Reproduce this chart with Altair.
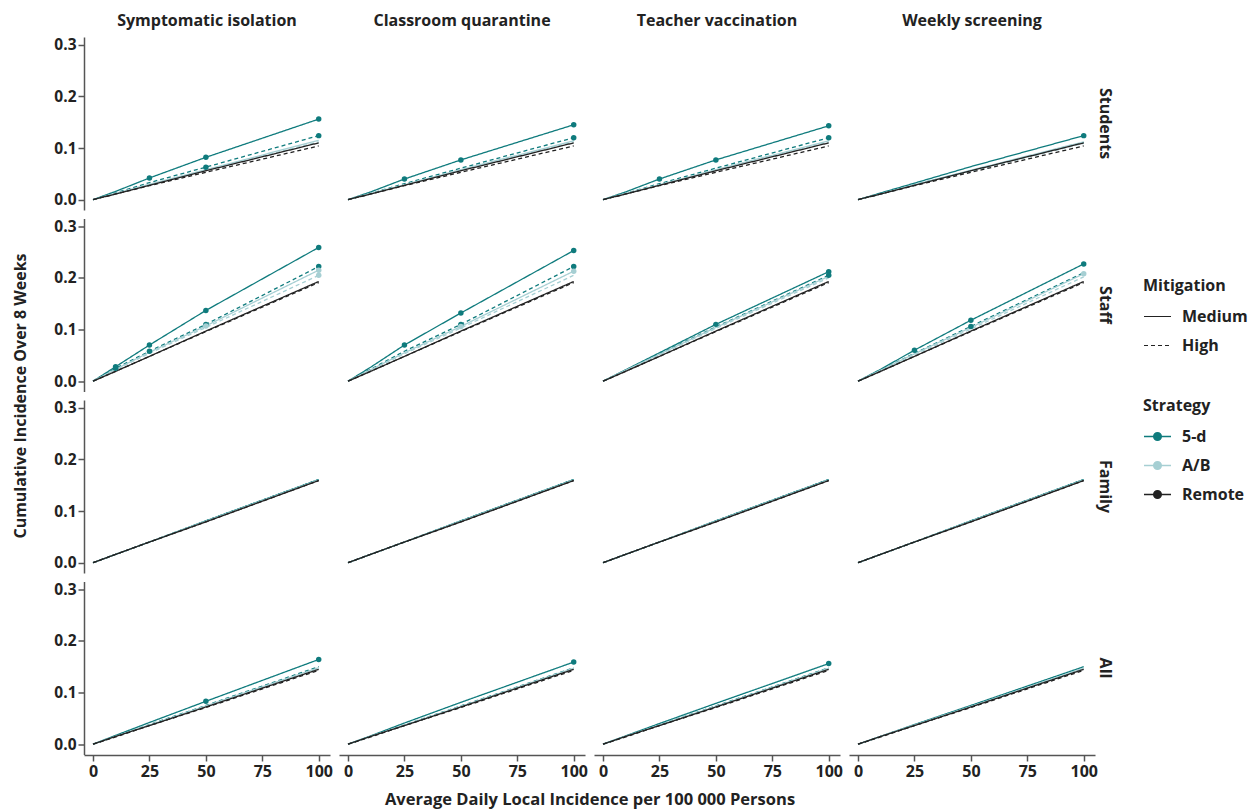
import altair as alt
import pandas as pd

# ---------------- data ----------------
outcomes = ["Students", "Staff", "Family", "All"]
interventions = ["Symptomatic isolation", "Classroom quarantine", "Teacher vaccination", "Weekly screening"]
strategies = ["5-d", "A/B", "Remote"]
mitigations = ["Medium", "High"]
x_vals = [0, 10, 25, 50, 100]

# series order per panel: 5-d Medium, 5-d High, A/B Medium, A/B High, Remote Medium, Remote High
stu_remote_m = [0, 0.011, 0.028, 0.056, 0.110]
stu_remote_h = [0, 0.011, 0.027, 0.053, 0.104]
stf_remote_m = [0, 0.019, 0.048, 0.097, 0.193]
stf_remote_h = [0, 0.019, 0.048, 0.096, 0.191]
fam_5d = [0, 0.016, 0.040, 0.081, 0.161]
fam_ab = [0, 0.016, 0.040, 0.080, 0.160]
fam_remote = [0, 0.016, 0.040, 0.079, 0.159]
all_remote_m = [0, 0.015, 0.036, 0.072, 0.145]
all_remote_h = [0, 0.014, 0.036, 0.071, 0.143]

values = {
    ("Students", "Symptomatic isolation"): [
        [0, 0.016, 0.042, 0.082, 0.156], [0, 0.013, 0.033, 0.063, 0.124],
        [0, 0.012, 0.030, 0.058, 0.115], [0, 0.012, 0.029, 0.057, 0.112],
        stu_remote_m, stu_remote_h],
    ("Students", "Classroom quarantine"): [
        [0, 0.015, 0.040, 0.077, 0.145], [0, 0.012, 0.031, 0.061, 0.120],
        [0, 0.012, 0.029, 0.058, 0.114], [0, 0.011, 0.029, 0.057, 0.112],
        stu_remote_m, stu_remote_h],
    ("Students", "Teacher vaccination"): [
        [0, 0.015, 0.040, 0.077, 0.143], [0, 0.012, 0.031, 0.061, 0.120],
        [0, 0.012, 0.029, 0.058, 0.114], [0, 0.011, 0.029, 0.057, 0.112],
        stu_remote_m, stu_remote_h],
    ("Students", "Weekly screening"): [
        [0, 0.013, 0.032, 0.064, 0.124], [0, 0.011, 0.029, 0.056, 0.111],
        [0, 0.011, 0.029, 0.057, 0.112], [0, 0.011, 0.028, 0.055, 0.109],
        stu_remote_m, stu_remote_h],
    ("Staff", "Symptomatic isolation"): [
        [0, 0.028, 0.070, 0.137, 0.259], [0, 0.025, 0.058, 0.110, 0.222],
        [0, 0.023, 0.056, 0.107, 0.215], [0, 0.022, 0.054, 0.104, 0.205],
        stf_remote_m, stf_remote_h],
    ("Staff", "Classroom quarantine"): [
        [0, 0.027, 0.070, 0.132, 0.253], [0, 0.023, 0.058, 0.110, 0.222],
        [0, 0.022, 0.055, 0.106, 0.213], [0, 0.021, 0.053, 0.103, 0.205],
        stf_remote_m, stf_remote_h],
    ("Staff", "Teacher vaccination"): [
        [0, 0.022, 0.055, 0.110, 0.212], [0, 0.021, 0.053, 0.105, 0.205],
        [0, 0.021, 0.052, 0.104, 0.203], [0, 0.020, 0.051, 0.102, 0.200],
        stf_remote_m, stf_remote_h],
    ("Staff", "Weekly screening"): [
        [0, 0.023, 0.060, 0.118, 0.227], [0, 0.021, 0.054, 0.106, 0.210],
        [0, 0.021, 0.053, 0.104, 0.208], [0, 0.020, 0.051, 0.101, 0.202],
        stf_remote_m, stf_remote_h],
    ("Family", "Symptomatic isolation"): [fam_5d, fam_5d, fam_ab, fam_ab, fam_remote, fam_remote],
    ("Family", "Classroom quarantine"): [fam_5d, fam_5d, fam_ab, fam_ab, fam_remote, fam_remote],
    ("Family", "Teacher vaccination"): [fam_5d, fam_5d, fam_ab, fam_ab, fam_remote, fam_remote],
    ("Family", "Weekly screening"): [fam_5d, fam_5d, fam_ab, fam_ab, fam_remote, fam_remote],
    ("All", "Symptomatic isolation"): [
        [0, 0.017, 0.042, 0.083, 0.164], [0, 0.015, 0.038, 0.075, 0.150],
        [0, 0.015, 0.037, 0.074, 0.148], [0, 0.015, 0.037, 0.073, 0.147],
        all_remote_m, all_remote_h],
    ("All", "Classroom quarantine"): [
        [0, 0.016, 0.041, 0.081, 0.159], [0, 0.015, 0.037, 0.074, 0.148],
        [0, 0.015, 0.037, 0.073, 0.147], [0, 0.015, 0.036, 0.073, 0.146],
        all_remote_m, all_remote_h],
    ("All", "Teacher vaccination"): [
        [0, 0.016, 0.040, 0.079, 0.156], [0, 0.015, 0.037, 0.074, 0.148],
        [0, 0.015, 0.037, 0.073, 0.147], [0, 0.015, 0.036, 0.073, 0.146],
        all_remote_m, all_remote_h],
    ("All", "Weekly screening"): [
        [0, 0.015, 0.038, 0.075, 0.150], [0, 0.015, 0.037, 0.073, 0.146],
        [0, 0.015, 0.037, 0.073, 0.147], [0, 0.015, 0.036, 0.072, 0.145],
        all_remote_m, all_remote_h],
}

# points marked with a dot: (outcome, intervention, strategy, mitigation) -> x values
dots = {
    ("Students", "Symptomatic isolation", "5-d", "Medium"): [25, 50, 100],
    ("Students", "Symptomatic isolation", "5-d", "High"): [50, 100],
    ("Students", "Classroom quarantine", "5-d", "Medium"): [25, 50, 100],
    ("Students", "Classroom quarantine", "5-d", "High"): [100],
    ("Students", "Teacher vaccination", "5-d", "Medium"): [25, 50, 100],
    ("Students", "Teacher vaccination", "5-d", "High"): [100],
    ("Students", "Weekly screening", "5-d", "Medium"): [100],
    ("Staff", "Symptomatic isolation", "5-d", "Medium"): [10, 25, 50, 100],
    ("Staff", "Symptomatic isolation", "5-d", "High"): [10, 25, 50, 100],
    ("Staff", "Symptomatic isolation", "A/B", "Medium"): [50, 100],
    ("Staff", "Symptomatic isolation", "A/B", "High"): [100],
    ("Staff", "Classroom quarantine", "5-d", "Medium"): [25, 50, 100],
    ("Staff", "Classroom quarantine", "5-d", "High"): [50, 100],
    ("Staff", "Classroom quarantine", "A/B", "Medium"): [50, 100],
    ("Staff", "Teacher vaccination", "5-d", "Medium"): [50, 100],
    ("Staff", "Teacher vaccination", "5-d", "High"): [100],
    ("Staff", "Weekly screening", "5-d", "Medium"): [25, 50, 100],
    ("Staff", "Weekly screening", "5-d", "High"): [50],
    ("Staff", "Weekly screening", "A/B", "Medium"): [100],
    ("All", "Symptomatic isolation", "5-d", "Medium"): [50, 100],
    ("All", "Classroom quarantine", "5-d", "Medium"): [100],
    ("All", "Teacher vaccination", "5-d", "Medium"): [100],
}

series_keys = [(s, m) for s in strategies for m in mitigations]
rows = []
for (outc, interv), series in values.items():
    for (s, m), ys in zip(series_keys, series):
        marked = dots.get((outc, interv, s, m), [])
        for xv, yv in zip(x_vals, ys):
            rows.append({"outcome": outc, "intervention": interv, "strategy": s,
                         "mitigation": m, "x": xv, "y": yv, "dot": xv in marked})
df = pd.DataFrame(rows)

FONT = "Open Sans"
colors = ["#0f7b7d", "#a6cfd3", "#222222"]

x_enc = alt.X("x:Q", scale=alt.Scale(domain=[-4, 105], nice=False),
              axis=alt.Axis(values=[0, 25, 50, 75, 100], title=None, labelFontSize=16))
y_enc = alt.Y("y:Q", scale=alt.Scale(domain=[-0.02, 0.315], nice=False),
              axis=alt.Axis(values=[0, 0.1, 0.2, 0.3], format=".1f", title=None, labelFontSize=15.5))
color_enc = alt.Color("strategy:N", scale=alt.Scale(domain=strategies, range=colors),
                      sort=strategies,
                      legend=alt.Legend(title="Strategy", orient="none", legendX=1059, legendY=361,
                                        symbolType="M-1,0L1,0M0.28,0A0.28,0.28,0,1,1,-0.28,0A0.28,0.28,0,1,1,0.28,0Z",
                                        symbolSize=729, symbolStrokeWidth=1.5))

base = alt.Chart(df)
lines = base.mark_line(strokeWidth=1.3).encode(
    x=x_enc, y=y_enc, color=color_enc,
    strokeDash=alt.StrokeDash("mitigation:N",
                              scale=alt.Scale(domain=mitigations, range=[[1, 0], [4, 3]]),
                              sort=mitigations,
                              legend=alt.Legend(title="Mitigation", orient="none", legendX=1059,
                                                legendY=241, symbolType="stroke",
                                                symbolStrokeColor="#222222", symbolSize=729,
                                                symbolStrokeWidth=1.2)),
    detail="mitigation:N",
    order=alt.Order("strategy:N", sort="descending"),
)
points = base.transform_filter(alt.datum.dot).mark_circle(size=30, opacity=1).encode(
    x=x_enc, y=y_enc, color=color_enc,
)

chart = alt.layer(lines, points).properties(width=246, height=173).facet(
    row=alt.Row("outcome:N", sort=outcomes,
                header=alt.Header(title="Cumulative Incidence Over 8 Weeks", titleOrient="left",
                                  labelOrient="right", labelAngle=90, labelFontSize=16,
                                  labelFontWeight="bold", labelFont=FONT, labelPadding=2,
                                  titleFont=FONT, titleFontSize=16, titleFontWeight="bold",
                                  titlePadding=14, titleColor="#222", labelColor="#222")),
    column=alt.Column("intervention:N", sort=interventions,
                      header=alt.Header(title="Average Daily Local Incidence per 100 000 Persons",
                                        titleOrient="bottom", labelOrient="top",
                                        labelFontSize=16, labelFontWeight="bold", labelFont=FONT,
                                        labelPadding=8, titleFont=FONT, titleFontSize=16.5,
                                        titleFontWeight="bold", titlePadding=3,
                                        titleColor="#222", labelColor="#222")),
    spacing={"row": 8.5, "column": 9},
).resolve_scale(x="shared", y="shared").configure_view(stroke=None).configure_axis(
    grid=False, domainColor="#555", domainWidth=1.5, tickColor="#555", tickWidth=1.5,
    tickSize=6, labelFont=FONT, labelFontWeight="bold", labelColor="#222",
).configure_legend(
    titleFont=FONT, titleFontSize=16, titleFontWeight="bold", titleColor="#222",
    labelFont=FONT, labelFontSize=16, labelFontWeight="bold", labelColor="#222",
    rowPadding=6, padding=0, titlePadding=8, labelOffset=10,
).properties(padding={"left": 12, "top": 13, "right": 5, "bottom": 0})

chart.save("out.html", embed_options={"renderer": "svg", "actions": False})
